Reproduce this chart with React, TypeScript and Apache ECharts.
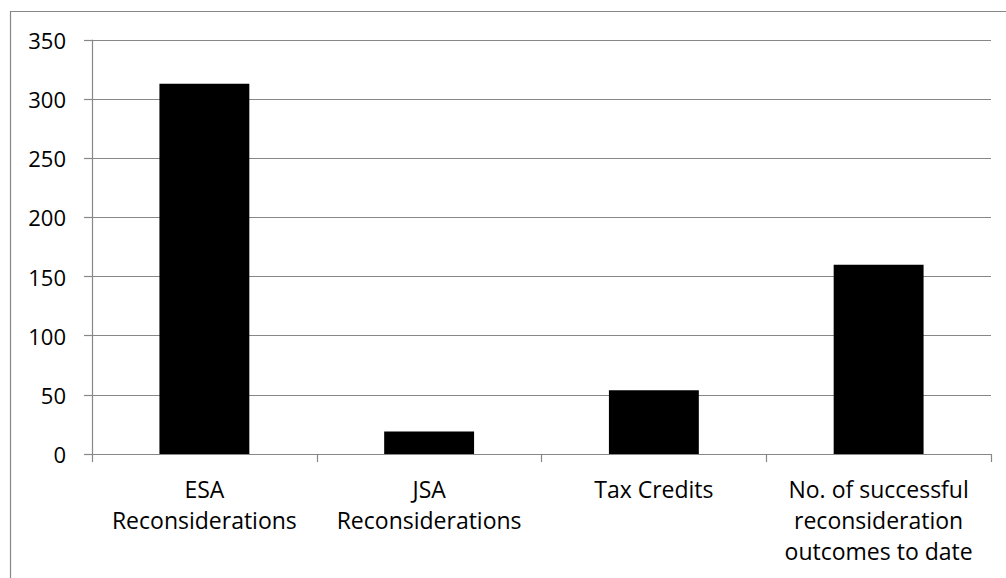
import React, { useEffect, useRef } from "react";
import * as echarts from "echarts";

const categories = [
  "ESA\nReconsiderations",
  "JSA\nReconsiderations",
  "Tax Credits",
  "No. of successful\nreconsideration\noutcomes to date",
];
const values = [313, 19, 54, 160];
const yTicks = { min: 0, max: 350, interval: 50 };

const GRAY = "#878787";
const FONT = "'Open Sans', sans-serif";

export default function App() {
  const ref = useRef<HTMLDivElement>(null);
  useEffect(() => {
    document.body.style.margin = "0";
    const chart = echarts.init(ref.current!, null, { renderer: "svg" });
    chart.setOption({
      animation: false,
      backgroundColor: "#ffffff",
      grid: { left: 92, right: 15, top: 40, bottom: 124, containLabel: false },
      graphic: [
        {
          type: "rect",
          shape: { x: 10.5, y: 11.5, width: 1200, height: 1200 },
          style: { fill: "none", stroke: GRAY, lineWidth: 1.2 },
          silent: true,
        },
      ],
      xAxis: {
        type: "category",
        data: categories,
        boundaryGap: true,
        axisLine: { show: true, lineStyle: { color: GRAY, width: 1.2 } },
        axisTick: { show: true, length: 8, interval: 0, lineStyle: { color: GRAY, width: 1.2 } },
        axisLabel: {
          interval: 0,
          color: "#000",
          fontFamily: FONT,
          fontSize: 23,
          lineHeight: 31,
          margin: 19,
          align: "center",
        },
        splitLine: { show: false },
      },
      yAxis: {
        type: "value",
        min: yTicks.min,
        max: yTicks.max,
        interval: yTicks.interval,
        axisLine: { show: true, lineStyle: { color: GRAY, width: 1.2 } },
        axisTick: { show: true, length: 8, lineStyle: { color: GRAY, width: 1.2 } },
        axisLabel: {
          color: "#000",
          fontFamily: FONT,
          fontSize: 22,
          margin: 26,
        },
        splitLine: { show: true, lineStyle: { color: GRAY, width: 1.2 } },
      },
      series: [
        {
          type: "bar",
          data: values,
          barWidth: "40%",
          itemStyle: { color: "#000000" },
        },
      ],
    });
    return () => chart.dispose();
  }, []);
  return (
    <div
      ref={ref}
      style={{ position: "fixed", left: 0, top: 0, width: 1006, height: 578 }}
    />
  );
}
